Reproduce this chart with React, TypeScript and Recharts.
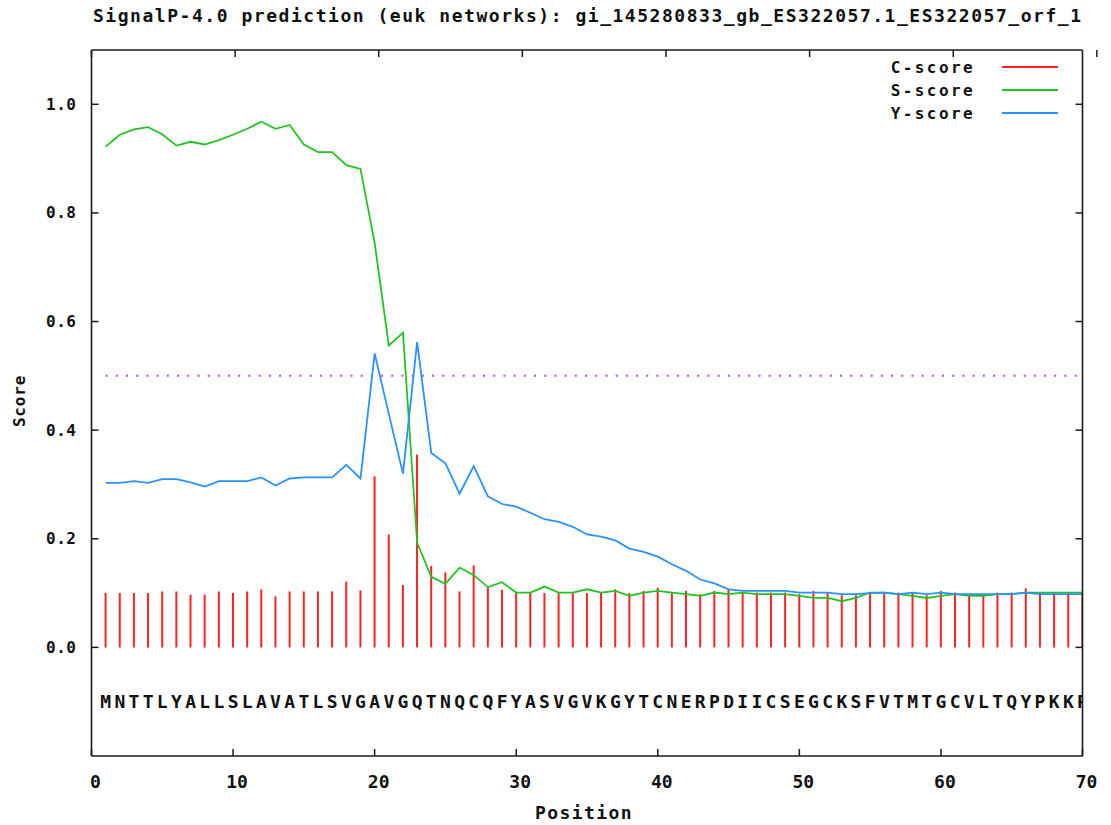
import React from 'react';
import {
  ComposedChart,
  Bar,
  Line,
  Scatter,
  XAxis,
  YAxis,
  ReferenceLine,
  Customized,
} from 'recharts';

// ---------- data ----------
const sequence = 'MNTTLYALLSLAVATLSVGAVGQTNQCQFYASVGVKGYTCNERPDIICSEGCKSFVTMTGCVLTQYPKKP'.split('');

const cScore = [
  0.100, 0.100, 0.100, 0.100, 0.103, 0.103, 0.097, 0.097, 0.103, 0.100,
  0.103, 0.107, 0.094, 0.103, 0.103, 0.103, 0.103, 0.121, 0.105, 0.315,
  0.208, 0.115, 0.355, 0.150, 0.138, 0.103, 0.151, 0.111, 0.106, 0.102,
  0.102, 0.100, 0.100, 0.100, 0.100, 0.100, 0.107, 0.100, 0.104, 0.110,
  0.100, 0.104, 0.098, 0.104, 0.106, 0.101, 0.101, 0.101, 0.101, 0.098,
  0.104, 0.100, 0.096, 0.096, 0.101, 0.101, 0.101, 0.101, 0.096, 0.104,
  0.101, 0.096, 0.096, 0.101, 0.101, 0.109, 0.101, 0.100, 0.100, 0.100,
];

const sScore = [
  0.922, 0.944, 0.954, 0.958, 0.945, 0.924, 0.931, 0.926, 0.934, 0.944,
  0.955, 0.968, 0.955, 0.962, 0.926, 0.912, 0.912, 0.888, 0.881, 0.745,
  0.556, 0.579, 0.193, 0.130, 0.117, 0.147, 0.133, 0.111, 0.120, 0.101,
  0.101, 0.112, 0.101, 0.101, 0.107, 0.101, 0.104, 0.095, 0.101, 0.104,
  0.101, 0.098, 0.095, 0.101, 0.098, 0.101, 0.098, 0.098, 0.098, 0.095,
  0.091, 0.091, 0.085, 0.091, 0.101, 0.101, 0.098, 0.095, 0.091, 0.095,
  0.098, 0.095, 0.095, 0.098, 0.098, 0.101, 0.101, 0.101, 0.101, 0.101,
];

const yScore = [
  0.303, 0.303, 0.306, 0.303, 0.310, 0.310, 0.304, 0.296, 0.306, 0.306,
  0.306, 0.313, 0.298, 0.311, 0.313, 0.313, 0.313, 0.336, 0.311, 0.541,
  0.430, 0.320, 0.562, 0.358, 0.339, 0.283, 0.334, 0.278, 0.264, 0.259,
  0.248, 0.236, 0.231, 0.222, 0.208, 0.204, 0.197, 0.182, 0.176, 0.167,
  0.153, 0.141, 0.125, 0.118, 0.107, 0.104, 0.104, 0.104, 0.104, 0.101,
  0.101, 0.101, 0.098, 0.098, 0.100, 0.101, 0.098, 0.101, 0.098, 0.101,
  0.098, 0.098, 0.098, 0.098, 0.098, 0.101, 0.098, 0.098, 0.098, 0.098,
];

const xTicks = [0, 10, 20, 30, 40, 50, 60, 70];
const yTicks = [0, 0.2, 0.4, 0.6, 0.8, 1.0];
const xDomain = [0, 70];
const yDomain = [-0.2, 1.1];
const threshold = 0.5;
const seriesNames = ['C-score', 'S-score', 'Y-score'];
const seriesColors = ['#ff2222', '#22c422', '#2a92ff'];
const thresholdColor = '#c040ff';
const title = 'SignalP-4.0 prediction (euk networks): gi_145280833_gb_ES322057.1_ES322057_orf_1';
const xLabel = 'Position';
const yLabel = 'Score';

// layout constant: row (in score units) where the residue letters sit
const SEQ_ROW = -0.1;

const data = sequence.map((res, i) => ({
  pos: i + 1,
  c: cScore[i],
  s: sScore[i],
  y: yScore[i],
  residue: res,
  seqRow: SEQ_ROW,
}));

// ---------- styles ----------
const MONO = '"DejaVu Sans Mono", "Liberation Mono", monospace';
const AXIS_COLOR = '#1a1a1a';
const TICK_LEN = 7;

const LeftTick = (props: any) => {
  const { x, y, payload } = props;
  return (
    <g>
      <line x1={x} x2={x + TICK_LEN} y1={y} y2={y} stroke={AXIS_COLOR} strokeWidth={1.5} />
      <text
        x={x - 15}
        y={y}
        textAnchor="end"
        dominantBaseline="central"
        fontFamily={MONO}
        fontWeight="bold"
        fontSize={16}
        letterSpacing={0.5}
        fill="#111"
      >
        {Number(payload.value).toFixed(1)}
      </text>
    </g>
  );
};

const RightTick = (props: any) => {
  const { x, y } = props;
  return <line x1={x} x2={x - TICK_LEN} y1={y} y2={y} stroke={AXIS_COLOR} strokeWidth={1.5} />;
};

const BottomTick = (props: any) => {
  const { x, y, payload } = props;
  return (
    <g>
      <line x1={x} x2={x} y1={y} y2={y - TICK_LEN} stroke={AXIS_COLOR} strokeWidth={1.5} />
      <text
        x={x + 4}
        y={y + 25}
        textAnchor="middle"
        dominantBaseline="central"
        fontFamily={MONO}
        fontWeight="bold"
        fontSize={18}
        fill="#111"
      >
        {String(payload.value)}
      </text>
    </g>
  );
};

const TopTick = (props: any) => {
  const { x, y } = props;
  return <line x1={x} x2={x} y1={y} y2={y + TICK_LEN} stroke={AXIS_COLOR} strokeWidth={1.5} />;
};

const ResidueShape = (props: any) => {
  const { cx, cy, payload } = props;
  return (
    <text
      x={cx}
      y={cy}
      textAnchor="middle"
      dominantBaseline="central"
      fontFamily={MONO}
      fontWeight="bold"
      fontSize={18}
      fill="#111"
    >
      {payload.residue}
    </text>
  );
};

const Overlay = () => (
  <g>
    <text
      x={93}
      y={15}
      dominantBaseline="central"
      fontFamily={MONO}
      fontWeight="bold"
      fontSize={18}
      textLength={988}
      lengthAdjust="spacing"
      fill="#111"
    >
      {title}
    </text>
    <text
      x={584}
      y={812}
      textAnchor="middle"
      dominantBaseline="central"
      fontFamily={MONO}
      fontWeight="bold"
      fontSize={18}
      letterSpacing={1.4}
      fill="#111"
    >
      {xLabel}
    </text>
    <text
      x={19}
      y={401}
      textAnchor="middle"
      dominantBaseline="central"
      fontFamily={MONO}
      fontWeight="bold"
      fontSize={16}
      letterSpacing={0.8}
      fill="#111"
      transform="rotate(-90 19 401)"
    >
      {yLabel}
    </text>
    {seriesNames.map((name, i) => (
      <g key={name}>
        <text
          x={975}
          y={67 + i * 23}
          textAnchor="end"
          dominantBaseline="central"
          fontFamily={MONO}
          fontWeight="bold"
          fontSize={16}
          letterSpacing={2.4}
          fill="#111"
        >
          {name}
        </text>
        <line
          x1={1002}
          x2={1058}
          y1={67 + i * 23}
          y2={67 + i * 23}
          stroke={seriesColors[i]}
          strokeWidth={1.8}
        />
      </g>
    ))}
  </g>
);

export default function App() {
  return (
    <div style={{ position: 'absolute', left: 0, top: 0, width: 1111, height: 825, background: '#fff' }}>
      <ComposedChart
        width={1111}
        height={825}
        data={data}
        margin={{ top: 40, right: 18.5, bottom: 9, left: 11.5 }}
      >
        <XAxis
          dataKey="pos"
          type="number"
          domain={xDomain}
          ticks={xTicks}
          interval={0}
          allowDataOverflow
          height={60}
          tickSize={0}
          tickMargin={0}
          tickLine={false}
          tick={<BottomTick />}
          axisLine={{ stroke: AXIS_COLOR, strokeWidth: 1.6 }}
        />
        <XAxis
          xAxisId="top"
          orientation="top"
          type="number"
          domain={xDomain}
          ticks={xTicks}
          interval={0}
          allowDataOverflow
          height={10}
          tickSize={0}
          tickMargin={0}
          tickLine={false}
          tick={<TopTick />}
          axisLine={{ stroke: AXIS_COLOR, strokeWidth: 1.6 }}
        />
        <YAxis
          type="number"
          domain={yDomain}
          ticks={yTicks}
          interval={0}
          allowDataOverflow
          width={80}
          tickSize={0}
          tickMargin={0}
          tickLine={false}
          tick={<LeftTick />}
          axisLine={{ stroke: AXIS_COLOR, strokeWidth: 1.6 }}
        />
        <YAxis
          yAxisId="right"
          orientation="right"
          type="number"
          domain={yDomain}
          ticks={yTicks}
          interval={0}
          allowDataOverflow
          width={10}
          tickSize={0}
          tickMargin={0}
          tickLine={false}
          tick={<RightTick />}
          axisLine={{ stroke: AXIS_COLOR, strokeWidth: 1.6 }}
        />
        <ReferenceLine
          segment={[
            { x: 1, y: threshold },
            { x: 70, y: threshold },
          ]}
          stroke={thresholdColor}
          strokeWidth={2}
          strokeDasharray="2 8.2"
        />
        <Bar dataKey="c" name={seriesNames[0]} fill={seriesColors[0]} barSize={2} isAnimationActive={false} />
        <Line
          type="linear"
          dataKey="s"
          name={seriesNames[1]}
          stroke={seriesColors[1]}
          strokeWidth={1.8}
          dot={false}
          activeDot={false}
          isAnimationActive={false}
        />
        <Line
          type="linear"
          dataKey="y"
          name={seriesNames[2]}
          stroke={seriesColors[2]}
          strokeWidth={1.8}
          dot={false}
          activeDot={false}
          isAnimationActive={false}
        />
        <Scatter dataKey="seqRow" shape={<ResidueShape />} isAnimationActive={false} />
        <Customized component={Overlay} />
      </ComposedChart>
    </div>
  );
}
